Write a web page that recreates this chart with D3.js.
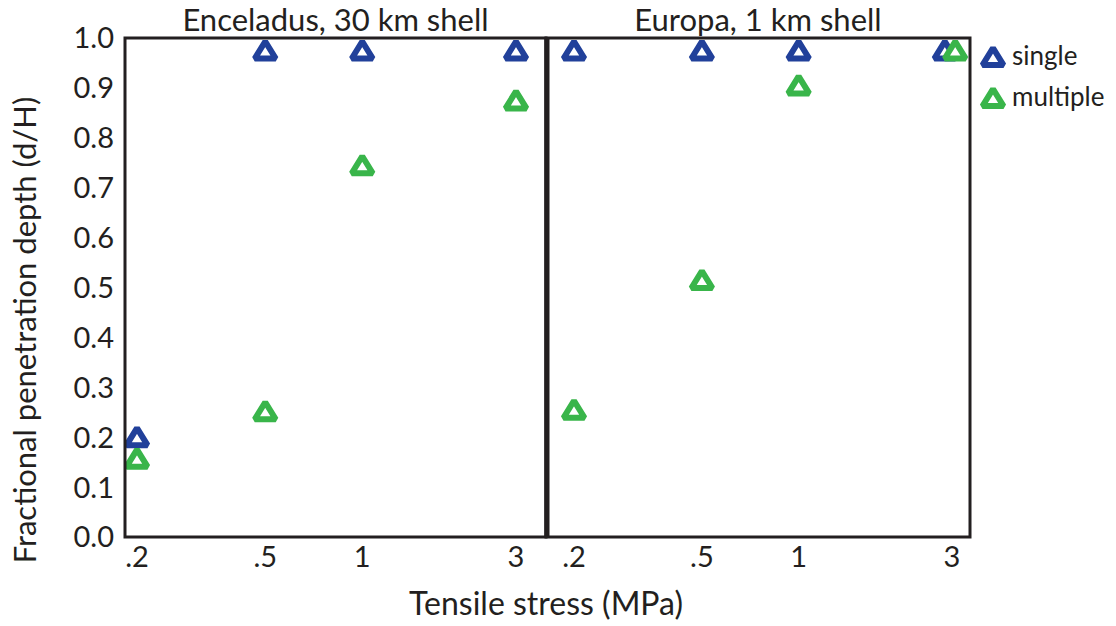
<!DOCTYPE html>
<html>
<head>
<meta charset="utf-8">
<script src="https://cdn.jsdelivr.net/npm/d3@7"></script>
<style>
  body { margin: 0; background: #fff; }
  text { font-family: Lato, "Noto Sans", sans-serif; fill: #231f20; }
</style>
</head>
<body>
<svg id="chart"></svg>
<script>
// tick labels and categories
var stressValues = [0.2, 0.5, 1, 3];
var stressLabels = [".2", ".5", "1", "3"];
var depthTicks = [0, 0.1, 0.2, 0.3, 0.4, 0.5, 0.6, 0.7, 0.8, 0.9, 1.0];

// Enceladus, 30 km shell
var enceladusSingleX = [0.2, 0.5, 1, 3];
var enceladusSingle = [0.2, 0.975, 0.975, 0.975];
var enceladusMultipleX = [0.2, 0.5, 1, 3];
var enceladusMultiple = [0.157, 0.252, 0.745, 0.875];

// Europa, 1 km shell
var europaSingleX = [0.2, 0.5, 1, 2.85];
var europaSingle = [0.975, 0.975, 0.975, 0.975];
var europaMultipleX = [0.2, 0.5, 1, 3.07];
var europaMultiple = [0.255, 0.515, 0.905, 0.975];

var blue = "#21409a", green = "#39b54a", ink = "#231f20";

var width = 1116, height = 626;
var plotTop = 38, plotBottom = 537;

var svg = d3.select("#chart")
    .attr("width", width)
    .attr("height", height);

var y = d3.scaleLinear().domain([0, 1]).range([plotBottom, plotTop]);

var panels = [
  { title: "Enceladus, 30 km shell", x0: 125, x1: 546, r0: 137, r1: 516,
    series: [
      { xs: enceladusSingleX, ys: enceladusSingle, color: blue },
      { xs: enceladusMultipleX, ys: enceladusMultiple, color: green }
    ] },
  { title: "Europa, 1 km shell", x0: 546, x1: 970, r0: 574, r1: 952,
    series: [
      { xs: europaSingleX, ys: europaSingle, color: blue },
      { xs: europaMultipleX, ys: europaMultiple, color: green }
    ] }
];

// triangle marker, flat corners
var tri = "M0,-9L10.5,8L-10.5,8Z";

function marker(g, cx, cy, color) {
  g.append("path")
      .attr("d", tri)
      .attr("transform", "translate(" + cx + "," + cy + ")")
      .attr("fill", "#fff")
      .attr("stroke", color)
      .attr("stroke-width", 6)
      .attr("stroke-linejoin", "bevel");
}

panels.forEach(function(p) {
  var x = d3.scaleLog().domain([0.2, 3]).range([p.r0, p.r1]);
  var g = svg.append("g");

  // x tick labels
  g.selectAll(".xt")
      .data(stressValues)
      .enter().append("text")
      .attr("x", function(d) { return x(d); })
      .attr("y", 567)
      .attr("text-anchor", "middle")
      .style("font-size", "29px")
      .text(function(d, i) { return stressLabels[i]; });

  // panel title
  g.append("text")
      .attr("x", (p.x0 + p.x1) / 2)
      .attr("y", 31)
      .attr("text-anchor", "middle")
      .style("font-size", "31px")
      .text(p.title);

  p.series.forEach(function(s) {
    s.xs.forEach(function(xv, i) {
      marker(g, x(xv), y(s.ys[i]), s.color);
    });
  });

  // frame
  g.append("rect")
      .attr("x", p.x0)
      .attr("y", plotTop)
      .attr("width", p.x1 - p.x0)
      .attr("height", plotBottom - plotTop)
      .attr("fill", "none")
      .attr("stroke", ink)
      .attr("stroke-width", 3);
});

// thicker divider
svg.append("line")
    .attr("x1", 547).attr("x2", 547)
    .attr("y1", plotTop).attr("y2", plotBottom)
    .attr("stroke", ink)
    .attr("stroke-width", 5);

// y tick labels
svg.selectAll(".yt")
    .data(depthTicks)
    .enter().append("text")
    .attr("x", 114)
    .attr("y", function(d) { return y(d); })
    .attr("dy", "0.36em")
    .attr("text-anchor", "end")
    .style("font-size", "29px")
    .text(function(d) { return d3.format(".1f")(d); });

// axis titles
svg.append("text")
    .attr("transform", "translate(36,330) rotate(-90)")
    .attr("text-anchor", "middle")
    .style("font-size", "31px")
    .text("Fractional penetration depth (d/H)");

svg.append("text")
    .attr("x", 546)
    .attr("y", 615)
    .attr("text-anchor", "middle")
    .style("font-size", "32px")
    .text("Tensile stress (MPa)");

// legend
var legend = [
  { label: "single", color: blue },
  { label: "multiple", color: green }
];
legend.forEach(function(l, i) {
  var ly = 57 + i * 41;
  marker(svg, 993, ly, l.color);
  svg.append("text")
      .attr("x", 1012)
      .attr("y", ly)
      .attr("dy", "0.3em")
      .style("font-size", "26px")
      .text(l.label);
});
</script>
</body>
</html>
